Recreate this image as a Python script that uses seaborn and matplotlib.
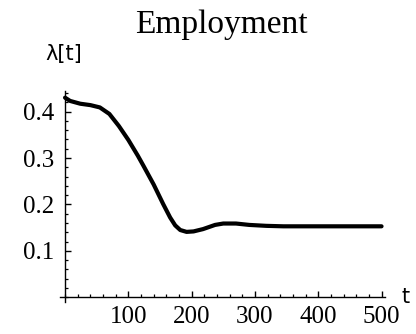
import matplotlib
matplotlib.use("Agg")
import matplotlib.pyplot as plt
import seaborn as sns
import pandas as pd
from matplotlib.ticker import MultipleLocator

# values
t_values = [0, 8, 24, 40, 55, 70, 85, 100, 115, 124, 130, 140, 155, 166, 174,
            182, 192, 203, 218, 237, 250, 270, 291, 318, 345, 400, 450, 500]
lambda_values = [0.430, 0.423, 0.417, 0.414, 0.409, 0.395, 0.369, 0.339, 0.305,
                 0.283, 0.268, 0.243, 0.201, 0.172, 0.155, 0.145, 0.141, 0.142,
                 0.147, 0.156, 0.159, 0.159, 0.156, 0.154, 0.153, 0.153, 0.153,
                 0.153]
x_ticks = [100, 200, 300, 400, 500]
y_ticks = [0.1, 0.2, 0.3, 0.4]

df = pd.DataFrame({"t": t_values, "lam": lambda_values})

sns.set_style("white")
plt.rcParams["font.family"] = ["Liberation Serif", "DejaVu Serif"]
plt.rcParams["text.color"] = "black"
plt.rcParams["xtick.color"] = "black"
plt.rcParams["ytick.color"] = "black"

fig = plt.figure(figsize=(4.16, 3.34), dpi=100)
ax = fig.add_axes([0.1442, 0.0958, 0.7806, 0.6326])

sns.lineplot(data=df, x="t", y="lam", ax=ax, color="black", linewidth=3)
ax.lines[0].set_solid_joinstyle("round")
ax.lines[0].set_solid_capstyle("round")

ax.set_xlim(-8, 505)
ax.set_ylim(-0.01, 0.445)
ax.spines["left"].set_position(("data", 0))
ax.spines["bottom"].set_position(("data", 0))
for s in ["top", "right"]:
    ax.spines[s].set_visible(False)
for s in ["left", "bottom"]:
    ax.spines[s].set_color("black")
    ax.spines[s].set_linewidth(1.0)

ax.set_xticks(x_ticks)
ax.set_yticks(y_ticks)
ax.set_yticklabels([f"{v:.1f}" for v in y_ticks])
ax.xaxis.set_minor_locator(MultipleLocator(20))
ax.yaxis.set_minor_locator(MultipleLocator(0.02))
ax.tick_params(which="major", direction="in", length=4, width=1, color="black",
               labelsize=18, labelcolor="black", pad=6, bottom=True, left=True)
ax.tick_params(which="minor", direction="in", length=2.2, width=0.9, color="black",
               bottom=True, left=True)
ax.tick_params(axis="y", which="major", pad=8)
ax.set_xlabel("")
ax.set_ylabel("")

fig.text(0.531, 1 - 33 / 334, "Employment", ha="center", va="baseline", fontsize=24)
fig.text(45 / 416, 1 - 60 / 334, "λ[t]", ha="left", va="baseline", fontsize=15,
         family=["DejaVu Sans"])
fig.text(402 / 416, 1 - 303 / 334, "t", ha="left", va="baseline", fontsize=15,
         family=["DejaVu Sans"])

fig.savefig("out.png", dpi=100)
